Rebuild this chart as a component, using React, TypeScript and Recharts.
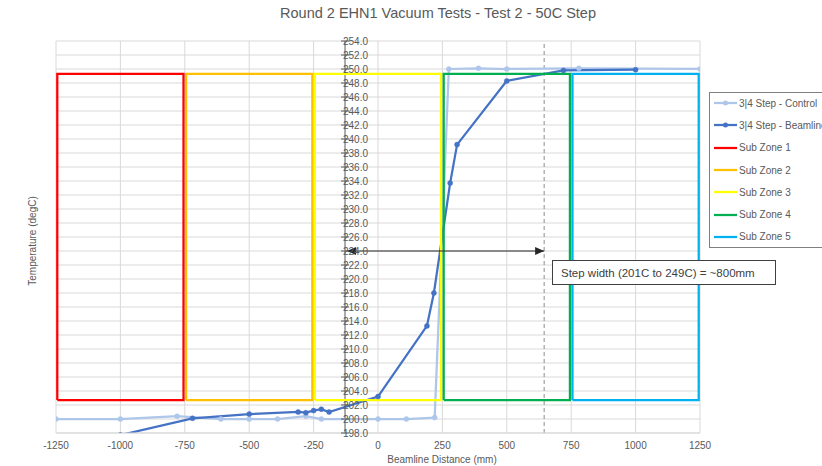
import React from 'react';
import { LineChart, Line, XAxis, YAxis, CartesianGrid, ReferenceLine } from 'recharts';

const xTicks = [-1250, -1000, -750, -500, -250, 0, 250, 500, 750, 1000, 1250];
const yTicks = [
  198, 200, 202, 204, 206, 208, 210, 212, 214, 216, 218, 220, 222, 224, 226,
  228, 230, 232, 234, 236, 238, 240, 242, 244, 246, 248, 250, 252, 254,
];

// 3|4 Step - Control
const controlX = [-1250, -1000, -780, -610, -500, -390, -280, -220, 0, 110, 220, 275, 390, 500, 780, 1250];
const controlT = [200.0, 200.0, 200.4, 200.0, 200.0, 200.0, 200.4, 200.0, 200.0, 200.0, 200.2, 250.0, 250.1, 250.0, 250.1, 250.0];

// 3|4 Step - Beamline
const beamX = [-1000, -720, -500, -310, -280, -250, -220, -190, 0, 190, 217, 280, 307, 500, 720, 1000];
const beamT = [197.7, 200.1, 200.7, 201.0, 200.9, 201.2, 201.4, 201.0, 203.2, 213.3, 218.0, 233.7, 239.2, 248.3, 249.8, 249.9];

// sub zones (drawn as closed outlines)
const zoneNames = ['Sub Zone 1', 'Sub Zone 2', 'Sub Zone 3', 'Sub Zone 4', 'Sub Zone 5'];
const zoneStart = [-1245, -745, -245, 255, 755];
const zoneEnd = [-755, -255, 245, 745, 1245];
const zoneLow = 202.7;
const zoneHigh = 249.3;
const zoneColors = ['#ff0000', '#ffc000', '#ffff00', '#00b050', '#00b0f0'];

// annotation
const stepEdgeX = 645;
const arrowX = [-120, 645];
const arrowT = 224;
const yAxisCrossX = -128;
const noteText = 'Step width (201C to 249C) = ~800mm';

const X_MIN = -1250;
const X_MAX = 1250;
const PLOT_LEFT = 56;
const PLOT_RIGHT = 700;
const AXIS_PX = PLOT_LEFT + ((yAxisCrossX - X_MIN) / (X_MAX - X_MIN)) * (PLOT_RIGHT - PLOT_LEFT);

const FONT = '"Liberation Sans", Arial, sans-serif';
const TEXT = '#595959';
const CONTROL = '#aec6ea';
const BEAM = '#4472c4';

const controlData = controlX.map((x, i) => ({ x, t: controlT[i] }));
const beamData = beamX.map((x, i) => ({ x, t: beamT[i] }));
const zoneData = zoneNames.map((_, i) => [
  { x: zoneStart[i], t: zoneLow },
  { x: zoneStart[i], t: zoneHigh },
  { x: zoneEnd[i], t: zoneHigh },
  { x: zoneEnd[i], t: zoneLow },
  { x: zoneStart[i], t: zoneLow },
]);
const arrowData = arrowX.map((x) => ({ x, t: arrowT }));

const YTick = ({ y, payload }: any) => (
  <g>
    <line x1={AXIS_PX - 4} x2={AXIS_PX + 4} y1={y} y2={y} stroke={TEXT} strokeWidth={1} />
    <text x={AXIS_PX + 23} y={y} dy="0.35em" textAnchor="end" fontSize={10} fill={TEXT} fontFamily={FONT}>
      {Number(payload.value).toFixed(1)}
    </text>
  </g>
);

const ArrowHead = ({ cx, cy, index }: any) => {
  if (cx == null || cy == null) return null;
  const d = index === 0 ? -1 : 1;
  const pts = `${cx},${cy} ${cx - d * 9},${cy - 4} ${cx - d * 9},${cy + 4}`;
  return <polygon key={`ah-${index}`} points={pts} fill="#262626" />;
};

const legendItems = [
  { name: '3|4 Step - Control', color: CONTROL, dot: true },
  { name: '3|4 Step - Beamline', color: BEAM, dot: true },
  ...zoneNames.map((name, i) => ({ name, color: zoneColors[i], dot: false })),
];

function ChartLegend() {
  return (
    <div
      style={{
        position: 'absolute', left: 709, top: 92, width: 130, height: 156,
        border: '1px solid #7f7f7f', background: '#fff', boxSizing: 'border-box',
      }}
    >
      <div style={{ position: 'relative', top: -1 }}>
        {legendItems.map((it) => (
          <div key={it.name} style={{ display: 'flex', alignItems: 'center', height: 22.3 }}>
            <svg width={26} height={10} style={{ marginLeft: 3 }}>
              <line x1={1} x2={24} y1={5} y2={5} stroke={it.color} strokeWidth={2.25} />
              {it.dot && <circle cx={12.5} cy={5} r={2.5} fill={it.color} />}
            </svg>
            <span style={{ fontSize: 10, color: TEXT, fontFamily: FONT, whiteSpace: 'nowrap' }}>{it.name}</span>
          </div>
        ))}
      </div>
    </div>
  );
}

export default function App() {
  return (
    <div
      style={{
        position: 'absolute', left: 0, top: 0, width: 822, height: 466,
        overflow: 'hidden', background: '#fff', fontFamily: FONT,
      }}
    >
      <div
        style={{
          position: 'absolute', left: 438, top: 5, transform: 'translateX(-50%)',
          fontSize: 14.5, color: TEXT, whiteSpace: 'nowrap',
        }}
      >
        Round 2 EHN1 Vacuum Tests - Test 2 - 50C Step
      </div>
      <LineChart width={822} height={466} margin={{ top: 41, right: 122, bottom: 3, left: 16 }}>
        <CartesianGrid stroke="#d9d9d9" strokeWidth={1} />
        <XAxis
          dataKey="x"
          type="number"
          domain={[X_MIN, X_MAX]}
          ticks={xTicks}
          interval={0}
          allowDataOverflow
          height={30}
          axisLine={{ stroke: '#d9d9d9' }}
          tickLine={false}
          tickMargin={3}
          tick={{ fontSize: 10, fill: TEXT, fontFamily: FONT }}
        />
        <YAxis
          type="number"
          domain={[198, 254]}
          ticks={yTicks}
          interval={0}
          allowDataOverflow
          width={40}
          axisLine={false}
          tickLine={false}
          tick={<YTick />}
        />
        <ReferenceLine x={yAxisCrossX} stroke={TEXT} strokeWidth={1} />
        <ReferenceLine x={stepEdgeX} stroke="#8c8c8c" strokeWidth={1} strokeDasharray="4 3" />
        <Line
          data={controlData}
          dataKey="t"
          stroke={CONTROL}
          strokeWidth={2.25}
          dot={{ r: 2.5, fill: CONTROL, stroke: CONTROL, strokeWidth: 0.5 }}
          isAnimationActive={false}
        />
        <Line
          data={beamData}
          dataKey="t"
          stroke={BEAM}
          strokeWidth={2.25}
          dot={{ r: 2.5, fill: BEAM, stroke: BEAM, strokeWidth: 0.5 }}
          isAnimationActive={false}
        />
        {zoneData.map((d, i) => (
          <Line
            key={zoneNames[i]}
            data={d}
            dataKey="t"
            stroke={zoneColors[i]}
            strokeWidth={2.25}
            dot={false}
            isAnimationActive={false}
          />
        ))}
        <Line
          data={arrowData}
          dataKey="t"
          stroke="#262626"
          strokeWidth={1}
          dot={<ArrowHead />}
          isAnimationActive={false}
        />
      </LineChart>
      <div
        style={{
          position: 'absolute', left: 32, top: 241, transform: 'translate(-50%, -50%) rotate(-90deg)',
          fontSize: 10, color: TEXT, whiteSpace: 'nowrap',
        }}
      >
        Temperature (degC)
      </div>
      <div
        style={{
          position: 'absolute', left: 442, top: 459, transform: 'translate(-50%, -50%)',
          fontSize: 10, color: TEXT, whiteSpace: 'nowrap',
        }}
      >
        Beamline Distance (mm)
      </div>
      <div
        style={{
          position: 'absolute', left: 552, top: 260, width: 224, height: 25, boxSizing: 'border-box',
          border: '1px solid #404040', background: '#fff', fontSize: 11.5, color: '#404040',
          display: 'flex', alignItems: 'center', paddingLeft: 8, whiteSpace: 'nowrap',
        }}
      >
        {noteText}
      </div>
      <ChartLegend />
    </div>
  );
}
